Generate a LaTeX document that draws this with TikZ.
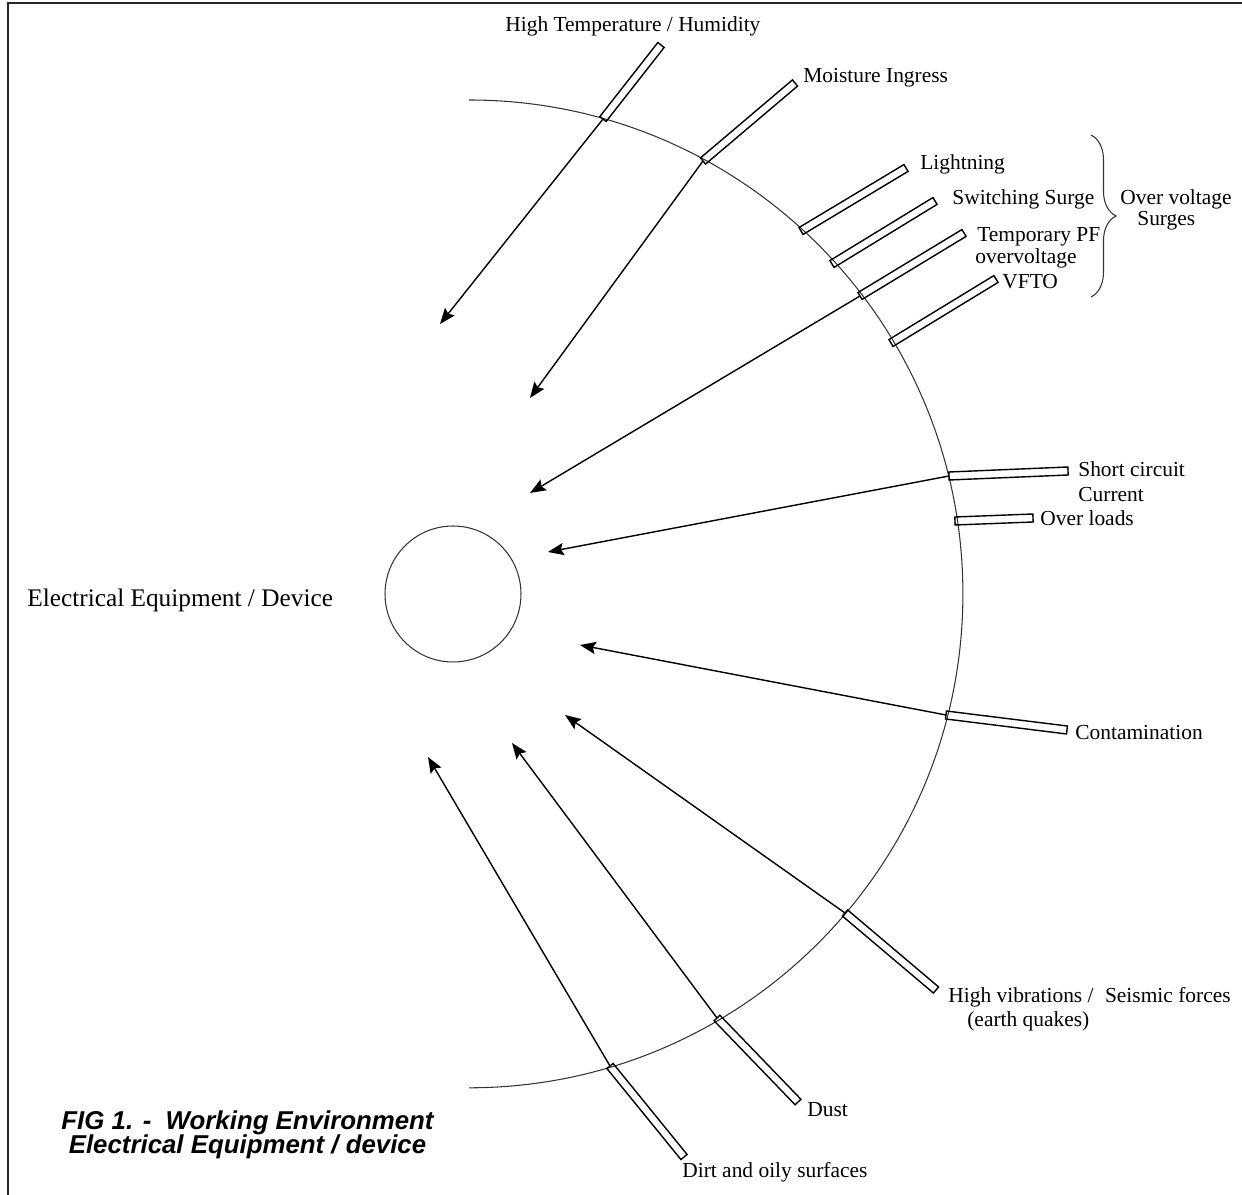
\documentclass[tikz,border=0pt]{standalone}
\usepackage{fontspec}
\setmainfont{Liberation Serif}
\newfontfamily\capfont{Liberation Sans}
\usetikzlibrary{calc,arrows.meta,decorations.pathreplacing}
\newcommand\stressbar[2]{%
  \draw[barline] ($(#1)!0.08cm!90:(#2)$) -- ($(#2)!0.08cm!-90:(#1)$)
    -- ($(#2)!0.08cm!90:(#1)$) -- ($(#1)!0.08cm!-90:(#2)$) -- cycle;}
\begin{document}
\begin{tikzpicture}[x=0.02cm,y=-0.02cm,
  lbl/.style={inner sep=0pt, anchor=base west, font=\fontsize{12.2}{14}\selectfont},
  barline/.style={draw=black, line width=0.8pt, line join=miter},
  arr/.style={draw=black, line width=0.8pt, -{Stealth[length=9pt,width=7pt,inset=1.5pt]}},
  ring/.style={draw=black!80, line width=0.6pt},
  framel/.style={draw=black!85, line width=1.1pt},
  capstyle/.style={inner sep=0pt, anchor=base, font=\capfont\bfseries\itshape\fontsize{14.7}{16}\selectfont}
]
\useasboundingbox (0,0) rectangle (1242,1195);
\draw[framel] (8,1195) -- (8,3) -- (1242,3);

% large arc and device
\draw[ring] (469,100) arc[start angle=90,end angle=-90,radius=9.88cm];
\node[ring, circle, minimum size=2.72cm, inner sep=0pt] (dev) at (453,594) {};
\node[inner sep=0pt, anchor=base west, font=\fontsize{14.4}{17}\selectfont] (devlbl) at (27,607) {Electrical Equipment / Device};

% crossing points, bar ends, arrow tips
\coordinate (s1) at (603,119);  \coordinate (e1) at (661,45);   \coordinate (t1) at (440,324);
\coordinate (s2) at (703,161);  \coordinate (e2) at (795,83);   \coordinate (t2) at (530,398);
\coordinate (s3) at (801,231);  \coordinate (e3) at (906,168);
\coordinate (s4) at (832,264);  \coordinate (e4) at (935,201);
\coordinate (s5) at (860,296);  \coordinate (e5) at (964,233);  \coordinate (t5) at (530,493);
\coordinate (s6) at (891,343);  \coordinate (e6) at (996,279);
\coordinate (s7) at (949,476);  \coordinate (e7) at (1068,471); \coordinate (t7) at (548,552);
\coordinate (s8) at (955,521);  \coordinate (e8) at (1033,518);
\coordinate (s9) at (946,715);  \coordinate (e9) at (1067,730); \coordinate (t9) at (580,645);
\coordinate (s10) at (845,913); \coordinate (e10) at (936,990); \coordinate (t10) at (565,715);
\coordinate (s11) at (717,1018);\coordinate (e11) at (798,1102);\coordinate (t11) at (512,743);
\coordinate (s12) at (610,1066);\coordinate (e12) at (684,1157);\coordinate (t12) at (428,757);

% bars
\stressbar{s1}{e1}
\stressbar{s2}{e2}
\stressbar{s3}{e3}
\stressbar{s4}{e4}
\stressbar{s5}{e5}
\stressbar{s6}{e6}
\stressbar{s7}{e7}
\stressbar{s8}{e8}
\stressbar{s9}{e9}
\stressbar{s10}{e10}
\stressbar{s11}{e11}
\stressbar{s12}{e12}

% arrows
\draw[arr] (s1) -- (t1);
\draw[arr] (s2) -- (t2);
\draw[arr] (s5) -- (t5);
\draw[arr] (s7) -- (t7);
\draw[arr] (s9) -- (t9);
\draw[arr] (s10) -- (t10);
\draw[arr] (s11) -- (t11);
\draw[arr] (s12) -- (t12);

% labels
\node[lbl] (l1) at (505,32) {High Temperature / Humidity};
\node[lbl] (l2) at (803,83) {Moisture Ingress};
\node[lbl] (l3) at (920,170) {Lightning};
\node[lbl] (l4) at (952,205) {Switching Surge};
\node[lbl] (l5a) at (977,242) {Temporary PF};
\node[lbl] (l5b) at (975,264) {overvoltage};
\node[lbl] (l6) at (1002,289) {VFTO};
\node[lbl] (ov1) at (1120,205) {Over voltage};
\node[lbl] (ov2) at (1137,226) {Surges};
\node[lbl] (l7a) at (1078,477) {Short circuit};
\node[lbl] (l7b) at (1078,502) {Current};
\node[lbl] (l8) at (1040,526) {Over loads};
\node[lbl] (l9) at (1075,740) {Contamination};
\node[lbl] (l10a) at (948,1003) {High vibrations /\hspace{6.5pt}Seismic forces};
\node[lbl] (l10b) at (967,1027) {(earth quakes)};
\node[lbl] (l11) at (807,1117) {Dust};
\node[lbl] (l12) at (682,1178) {Dirt and oily surfaces};

% brace
\draw[ring, decorate, decoration={brace, amplitude=0.5cm}] (1091,135) -- (1091,297);

% caption
\node[capstyle] (cap1) at (247.5,1130) {FIG 1. -\ \ Working Environment};
\node[capstyle] (cap2) at (247.5,1154) {Electrical Equipment / device};
\end{tikzpicture}
\end{document}
